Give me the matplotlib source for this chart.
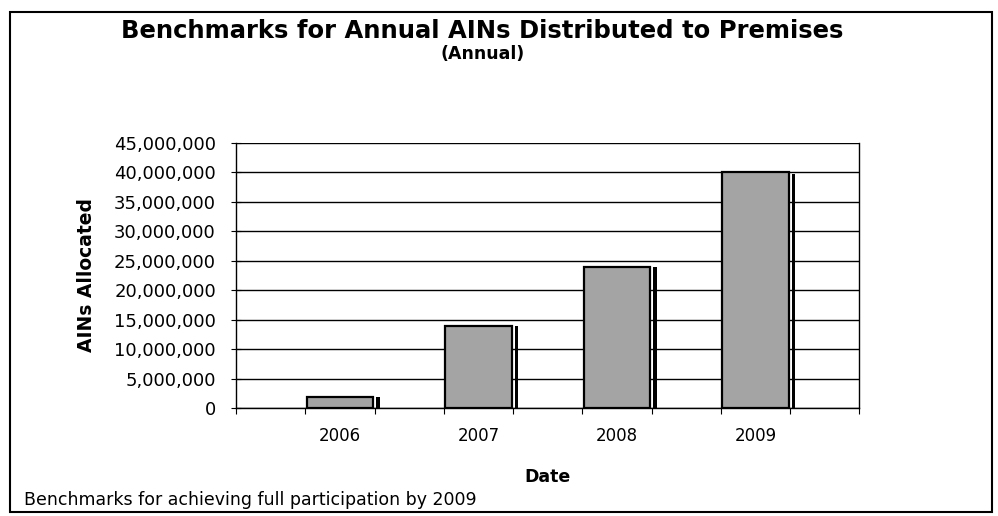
import numpy as np
import matplotlib
matplotlib.use("Agg")
from matplotlib import pyplot as plt
from matplotlib.patches import Rectangle

plt.rcParams['font.family'] = ['DejaVu Sans']

years = ['2006', '2007', '2008', '2009']
ains = [1900000, 14000000, 24000000, 40000000]
yticks = np.arange(0, 45000001, 5000000)

fig = plt.figure(figsize=(9.98, 5.16), dpi=100)
ax = fig.add_axes([0.2365, 0.2093, 0.6245, 0.5136])

# categories sit on every other slot of a 9-slot axis (Excel-style)
x = 2 * np.arange(len(years)) + 1.5
ax.bar(x, ains, width=0.96, color='#a4a4a4', edgecolor='black', linewidth=1.6, zorder=3)
# drop shadow line to the right of each bar
ax.bar(x + 0.55, np.array(ains) * 0.995, width=0.05, color='black', linewidth=0, zorder=3)

ax.set_xlim(0, 9)
ax.set_ylim(0, 45000000)
ax.set_yticks(yticks)
ax.set_yticklabels([f'{v:,.0f}' for v in yticks], fontsize=13)
ax.set_xticks(x)
ax.set_xticklabels(years, fontsize=12)
ax.set_xticks(np.arange(0, 10), minor=True)
ax.tick_params(axis='x', which='major', length=0, pad=14)
ax.tick_params(axis='x', which='minor', length=4, direction='out', width=0.8)
ax.tick_params(axis='y', length=7, direction='inout', width=0.8, pad=11)
ax.grid(axis='y', color='black', linewidth=1.0, zorder=1)

ax.spines['top'].set_visible(False)
for s in ['left', 'right', 'bottom']:
    ax.spines[s].set_linewidth(1.0)

ax.set_ylabel('AINs Allocated', fontsize=13.5, fontweight='bold', labelpad=13)
ax.set_xlabel('Date', fontsize=12.5, fontweight='bold', labelpad=16)

fig.text(0.483, 0.926, 'Benchmarks for Annual AINs Distributed to Premises',
         ha='center', va='baseline', fontsize=17.5, fontweight='bold')
fig.text(0.484, 0.886, '(Annual)', ha='center', va='baseline', fontsize=12.5, fontweight='bold')
fig.text(0.024, 0.0213, 'Benchmarks for achieving full participation by 2009',
         ha='left', va='baseline', fontsize=12.5)

fig.patches.append(Rectangle((0.010, 0.008), 0.984, 0.969, transform=fig.transFigure,
                             fill=False, edgecolor='black', linewidth=1.5))

fig.savefig('out.png', dpi=100)
